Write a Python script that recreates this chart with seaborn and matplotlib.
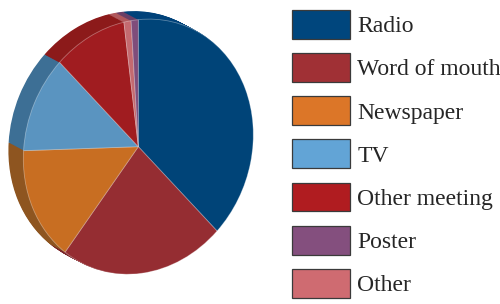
import matplotlib
matplotlib.use("Agg")
import matplotlib.pyplot as plt
from matplotlib.patches import Patch
from matplotlib.transforms import Affine2D
import seaborn as sns

sns.set_theme(style="white")
plt.rcParams['font.family'] = ['Liberation Serif', 'DejaVu Serif']

# data (legend order), percent of respondents
sources = ["Radio", "Word of mouth", "Newspaper", "TV", "Other meeting", "Poster", "Other"]
shares = [38, 23, 15, 12, 10, 1, 1]
legend_colors = ["#00467d", "#a03035", "#dc7628", "#62a4d6", "#b01c20", "#844f7e", "#cf6b71"]
top_colors = ["#004478", "#952d32", "#c86e22", "#5a94c0", "#a01c20", "#7f4d7b", "#c46a70"]
side_colors = ["#00427a", "#7a2428", "#8e5520", "#3d6f95", "#8c1a1a", "#6a3f66", "#b0585c"]
# slices go clockwise from 12 o'clock in this order
pie_order = [0, 1, 2, 3, 4, 6, 5]

vals = [shares[i] for i in pie_order]
tops = [top_colors[i] for i in pie_order]
sides = [side_colors[i] for i in pie_order]

fig = plt.figure(figsize=(5, 3.04), dpi=100)
ax = fig.add_axes([0, 0, 0.54, 1])

# slight shear so the disc looks tilted
tilt = Affine2D.from_values(1, 0.0945, 0, 1, 0, 0) + ax.transData

# extrusion of the "3d" pie: sweep darker copies from the back to the front
depth = (-0.130, 0.075)
steps = 20
for k in range(steps, 0, -1):
    t = k / steps
    wedges, _ = ax.pie(vals, colors=sides, startangle=90, counterclock=False,
                       center=(depth[0] * t, depth[1] * t),
                       wedgeprops=dict(linewidth=0))
    for w in wedges:
        w.set_transform(tilt)

wedges, _ = ax.pie(vals, colors=tops, startangle=90, counterclock=False,
                   wedgeprops=dict(linewidth=0.6, edgecolor=(1, 1, 1, 0.35)))
for w in wedges:
    w.set_transform(tilt)

ax.set_aspect('auto')
ax.set_xlim(-1.203, 1.145)
ax.set_ylim(-1.239, 1.155)
ax.axis('off')

handles = [Patch(facecolor=c, edgecolor="#3a3a3a", linewidth=0.9) for c in legend_colors]
fig.legend(handles, sources, loc='upper left', bbox_to_anchor=(292 / 500, 1 - 10 / 304),
           frameon=False, fontsize=17, borderaxespad=0, borderpad=0,
           handlelength=2.46, handleheight=1.51, labelspacing=0.6, handletextpad=0.3)

fig.savefig("out.png", dpi=100)
plt.close(fig)
